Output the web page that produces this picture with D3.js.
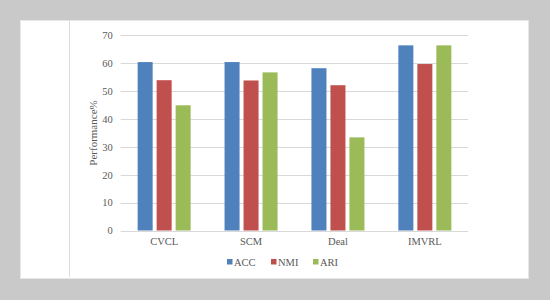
<!DOCTYPE html>
<html>
<head>
<meta charset="utf-8">
<script src="https://cdn.jsdelivr.net/npm/d3@7"></script>
<style>
html,body{margin:0;padding:0;background:#c9c9c9;}
svg{display:block;}
text{font-family:"Liberation Serif","Times New Roman",serif;fill:#595959;}
</style>
</head>
<body>
<svg id="chart" width="550" height="300"></svg>
<script>
const categories = ["CVCL", "SCM", "Deal", "IMVRL"];
const seriesNames = ["ACC", "NMI", "ARI"];
const accValues = [60.4, 60.4, 58.2, 66.4];
const nmiValues = [53.9, 53.8, 52.1, 59.7];
const ariValues = [44.9, 56.7, 33.4, 66.4];
const yTicks = [0, 10, 20, 30, 40, 50, 60, 70];
const colors = ["#4f81bd", "#c0504d", "#9bbb59"];

(function () {
const seriesValues = [accValues, nmiValues, ariValues];
const svg = d3.select("#chart");

// panel
svg.append("rect").attr("x", 0).attr("y", 0).attr("width", 550).attr("height", 300).attr("fill", "#c9c9c9");
svg.append("rect").attr("x", 20.5).attr("y", 20.5).attr("width", 508).attr("height", 258)
  .attr("fill", "#ffffff").attr("stroke", "#e6e6e6").attr("stroke-width", 1);
svg.append("line").attr("x1", 69.5).attr("x2", 69.5).attr("y1", 21).attr("y2", 277)
  .attr("stroke", "#dcdcdc").attr("stroke-width", 1);

const mLeft = 120.7, mRight = 468.3, mTop = 35.3, mBottom = 230.5;

const x0 = d3.scaleBand().domain(categories).range([mLeft, mRight]).padding(0);
const gw = 53;
const x1 = d3.scaleBand().domain(seriesNames)
  .range([x0.bandwidth() / 2 - gw / 2, x0.bandwidth() / 2 + gw / 2])
  .paddingInner(0.21).paddingOuter(0);
const y = d3.scaleLinear().domain([0, 70]).range([mBottom, mTop]);

// gridlines
svg.append("g").selectAll("line").data(yTicks).join("line")
  .attr("x1", mLeft).attr("x2", mRight)
  .attr("y1", d => Math.round(y(d)) + 0.5).attr("y2", d => Math.round(y(d)) + 0.5)
  .attr("stroke", "#d9d9d9").attr("stroke-width", 1);

// y axis labels
const yAxis = d3.axisLeft(y).tickValues(yTicks).tickSize(0).tickPadding(0);
const gy = svg.append("g").attr("transform", `translate(${mLeft - 8},0)`).call(yAxis);
gy.select(".domain").remove();
gy.selectAll("text").style("font-size", "10.5px").attr("fill", "#595959")
  .style("font-family", '"Liberation Serif",serif');

// bars
const groups = svg.append("g").selectAll("g").data(categories).join("g")
  .attr("transform", d => `translate(${x0(d)},0)`);
groups.selectAll("rect").data((d, i) => seriesNames.map((s, j) => ({s, v: seriesValues[j][i], j})))
  .join("rect")
  .attr("x", d => x1(d.s)).attr("width", x1.bandwidth())
  .attr("y", d => y(d.v)).attr("height", d => y(0) - y(d.v))
  .attr("fill", d => colors[d.j]);

// x axis labels
const xAxis = d3.axisBottom(x0).tickSize(0).tickPadding(0);
const gx = svg.append("g").attr("transform", `translate(0,${mBottom + 7})`).call(xAxis);
gx.select(".domain").remove();
gx.selectAll("text").style("font-size", "10.5px").attr("fill", "#595959")
  .style("font-family", '"Liberation Serif",serif');

// y axis title
svg.append("text").attr("transform", "translate(97,133) rotate(-90)")
  .attr("text-anchor", "middle").style("font-size", "11px").text("Performance%");

// legend
const legendX = [227, 271, 313];
const lg = svg.append("g").selectAll("g").data(seriesNames).join("g")
  .attr("transform", (d, i) => `translate(${legendX[i]},259)`);
lg.append("rect").attr("width", 5.5).attr("height", 5.5).attr("fill", (d, i) => colors[i]);
lg.append("text").attr("x", 7).attr("y", 6.5).style("font-size", "10.5px").text(d => d);
})();
</script>
</body>
</html>
